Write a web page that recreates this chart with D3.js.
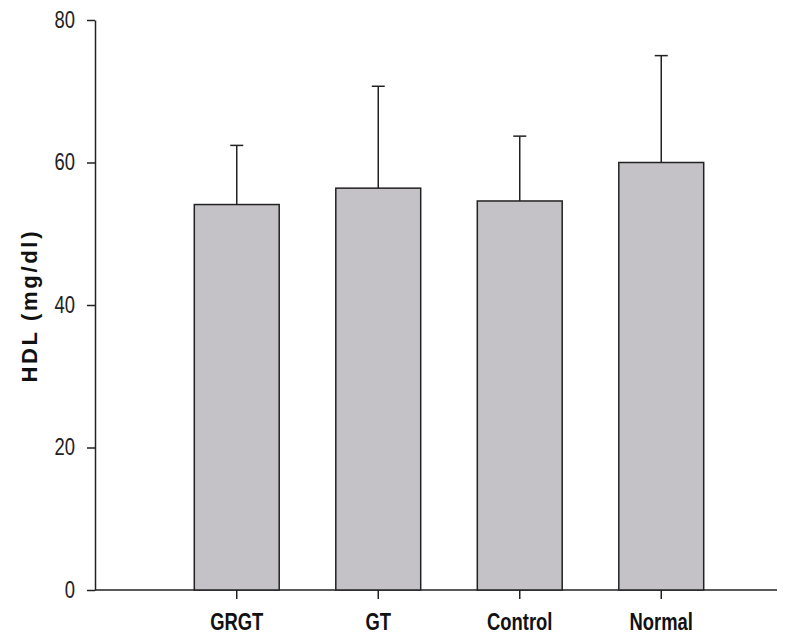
<!DOCTYPE html>
<html>
<head>
<meta charset="utf-8">
<script src="https://cdn.jsdelivr.net/npm/d3@7"></script>
<style>
body { margin: 0; background: #fff; }
text { font-family: "Liberation Sans", Arial, sans-serif; }
</style>
</head>
<body>
<svg width="794" height="635"></svg>
<script>
var groups = ["GRGT", "GT", "Control", "Normal"];
var means = [54.1, 56.4, 54.6, 60.0];
var errors = [8.3, 14.3, 9.1, 15.0];
var yTicks = [0, 20, 40, 60, 80];

var svg = d3.select("svg");
var plotLeft = 95, plotRight = 777, plotTop = 20, plotBottom = 590;
var squeeze = 0.8; // the original uses a condensed face

var xScale = d3.scaleBand().domain(groups).range([166, 732]).paddingInner(0.4).paddingOuter(0.2);
var yScale = d3.scaleLinear().domain([0, 80]).range([plotBottom, plotTop]);

// x axis line
svg.append("line").attr("x1", plotLeft).attr("x2", plotRight).attr("y1", plotBottom).attr("y2", plotBottom)
	.attr("stroke", "#222").attr("stroke-width", 1.5);

var yAxis = svg.append("g").attr("transform", "translate(" + plotLeft + ",0)")
	.call(d3.axisLeft(yScale).tickValues(yTicks).tickSize(8).tickSizeOuter(0));
yAxis.selectAll("path, line").attr("stroke", "#222").attr("stroke-width", 1.5);
yAxis.selectAll("text").attr("x", -20 / squeeze).attr("transform", "scale(" + squeeze + ",1)")
	.attr("font-size", "23px").attr("fill", "#222");

var xAxis = svg.append("g").attr("transform", "translate(0," + plotBottom + ")")
	.call(d3.axisBottom(xScale).tickSize(9).tickSizeOuter(0));
xAxis.select(".domain").remove();
xAxis.selectAll("line").attr("stroke", "#222").attr("stroke-width", 1.5);
xAxis.selectAll("text").attr("y", 40).attr("dy", 0).attr("transform", "scale(" + squeeze + ",1)")
	.attr("font-size", "23px").attr("font-weight", "bold").attr("fill", "#111");

// error bars
var g = svg.append("g");
groups.forEach(function(d, i) {
	var cx = xScale(d) + xScale.bandwidth() / 2;
	g.append("line").attr("x1", cx).attr("x2", cx)
		.attr("y1", yScale(means[i])).attr("y2", yScale(means[i] + errors[i]))
		.attr("stroke", "#222").attr("stroke-width", 1.5);
	g.append("line").attr("x1", cx - 6.5).attr("x2", cx + 6.5)
		.attr("y1", yScale(means[i] + errors[i])).attr("y2", yScale(means[i] + errors[i]))
		.attr("stroke", "#222").attr("stroke-width", 1.5);
});

g.selectAll(".bar")
	.data(groups)
	.enter().append("rect")
	.attr("class", "bar")
	.attr("x", function(d) { return xScale(d); })
	.attr("y", function(d, i) { return yScale(means[i]); })
	.attr("width", xScale.bandwidth())
	.attr("height", function(d, i) { return plotBottom - yScale(means[i]); })
	.attr("fill", "#c4c2c6")
	.attr("stroke", "#222")
	.attr("stroke-width", 1.5);

svg.append("text")
	.attr("transform", "translate(37,307) rotate(-90)")
	.attr("text-anchor", "middle")
	.attr("font-size", "22px")
	.attr("font-weight", "bold")
	.attr("fill", "#111")
	.attr("textLength", 151)
	.attr("lengthAdjust", "spacing")
	.text("HDL (mg/dl)");
</script>
</body>
</html>
